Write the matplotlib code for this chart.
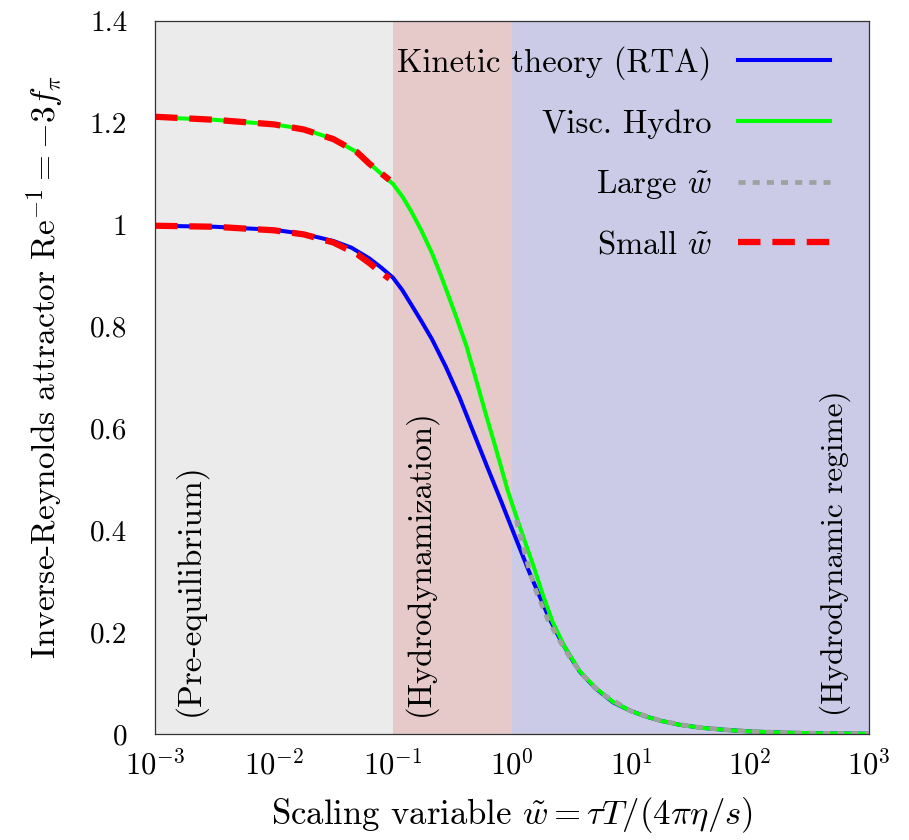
import numpy as np
import matplotlib
matplotlib.use("Agg")
import matplotlib.pyplot as plt

plt.rcParams['font.family'] = 'serif'
plt.rcParams['font.serif'] = ['cmr10']
plt.rcParams['mathtext.fontset'] = 'cm'
plt.rcParams['axes.formatter.use_mathtext'] = True
plt.rcParams['axes.unicode_minus'] = False

# log10(w) and attractor values for each curve
log_w_kin = [-3.0, -2.5, -2.0, -1.75, -1.5, -1.35, -1.2, -1.1, -1.0, -0.92, -0.846,
             -0.76, -0.672, -0.556, -0.441, -0.325, -0.209, -0.093, 0.022, 0.138,
             0.22, 0.311, 0.4, 0.5, 0.571, 0.7, 0.85, 1.0, 1.13, 1.25, 1.41, 1.6,
             1.8, 2.0, 2.3, 2.6, 3.0]
re_kin = [0.998, 0.996, 0.990, 0.982, 0.968, 0.955, 0.934, 0.916, 0.896, 0.871, 0.843,
          0.810, 0.775, 0.721, 0.661, 0.593, 0.525, 0.458, 0.390, 0.322,
          0.277, 0.228, 0.188, 0.148, 0.122, 0.090, 0.062, 0.045, 0.034, 0.026, 0.018, 0.012,
          0.008, 0.005, 0.0025, 0.0013, 0.0005]

log_w_hydro = [-3.0, -2.5, -2.0, -1.75, -1.5, -1.3, -1.2, -1.1, -1.0, -0.92, -0.846,
               -0.76, -0.672, -0.6, -0.528, -0.455, -0.383, -0.325, -0.267, -0.21,
               -0.151, -0.09, -0.036, 0.051, 0.12, 0.182, 0.26, 0.34, 0.44, 0.571,
               0.7, 0.85, 1.0, 1.13, 1.25, 1.41, 1.6, 1.8, 2.0, 2.3, 2.6, 3.0]
re_hydro = [1.211, 1.206, 1.197, 1.188, 1.168, 1.142, 1.121, 1.100, 1.080, 1.055, 1.026,
            0.988, 0.944, 0.902, 0.857, 0.810, 0.762, 0.715, 0.667, 0.620,
            0.573, 0.523, 0.478, 0.417, 0.370, 0.329, 0.273, 0.221, 0.172, 0.123,
            0.091, 0.063, 0.045, 0.034, 0.026, 0.018, 0.012, 0.008, 0.005, 0.0025, 0.0013, 0.0005]

log_w_large = [0.036, 0.1, 0.15, 0.2, 0.3, 0.4, 0.5, 0.6, 0.75, 1.0, 1.25, 1.5, 1.8,
               2.0, 2.3, 2.6, 3.0]
re_large = [0.420, 0.362, 0.318, 0.282, 0.225, 0.183, 0.145, 0.114, 0.080, 0.045, 0.026,
            0.015, 0.008, 0.005, 0.0025, 0.0013, 0.0005]

log_w_small = [-3.0, -2.5, -2.0, -1.75, -1.5, -1.3, -1.2, -1.1, -1.03]
re_small_hydro = [1.212, 1.206, 1.197, 1.187, 1.168, 1.142, 1.120, 1.101, 1.088]
re_small_kin = [0.998, 0.996, 0.989, 0.981, 0.965, 0.942, 0.925, 0.906, 0.894]

regions = [(1e-3, 1e-1, '#ebebeb'), (1e-1, 1e0, '#e6c9c9'), (1e0, 1e3, '#cbcbe7')]
region_labels = [(0.00197, '(Pre-equilibrium)', 24), (0.169, '(Hydrodynamization)', 23.5),
                 (518, '(Hydrodynamic regime)', 22.5)]

y_ticks = [0, 0.2, 0.4, 0.6, 0.8, 1, 1.2, 1.4]
y_ticklabels = ['0', '0.2', '0.4', '0.6', '0.8', '1', '1.2', '1.4']
x_ticks = [1e-3, 1e-2, 1e-1, 1e0, 1e1, 1e2, 1e3]
x_ticklabels = [r'$10^{-3}$', r'$10^{-2}$', r'$10^{-1}$', r'$10^{0}$',
                r'$10^{1}$', r'$10^{2}$', r'$10^{3}$']

fig = plt.figure(figsize=(9.09, 8.4), dpi=100)
ax = fig.add_axes([0.1705, 0.1262, 0.7855, 0.8488])

for x0, x1, c in regions:
    ax.axvspan(x0, x1, color=c, lw=0, zorder=0)

ax.plot(10**np.array(log_w_kin), re_kin, color='#0000ff', lw=2.9, label='Kinetic theory (RTA)', zorder=2)
ax.plot(10**np.array(log_w_hydro), re_hydro, color='#00ff00', lw=2.9, label='Visc. Hydro', zorder=3)
ax.plot(10**np.array(log_w_large), re_large, color='#a0a0a0', lw=3.4, dashes=(1.5, 1.5),
        label=r'Large $\tilde{w}$', zorder=4)
ax.plot(10**np.array(log_w_small), re_small_hydro, color='#ff0000', lw=4.5, dashes=(3.6, 1.9),
        label=r'Small $\tilde{w}$', zorder=5)
ax.plot(10**np.array(log_w_small), re_small_kin, color='#ff0000', lw=4.5, dashes=(3.6, 1.9), zorder=5)

for xpos, txt, fs in region_labels:
    ax.text(xpos, 0.035, txt, rotation=90, ha='center', va='bottom', fontsize=fs, zorder=6)

ax.set_xscale('log')
ax.set_xlim(1e-3, 1e3)
ax.set_ylim(0, 1.4)
ax.set_xticks(x_ticks)
ax.set_xticklabels(x_ticklabels)
ax.minorticks_off()
ax.set_yticks(y_ticks)
ax.set_yticklabels(y_ticklabels)
ax.tick_params(axis='both', length=0)
ax.tick_params(axis='y', pad=20, labelsize=21)
ax.tick_params(axis='x', pad=11, labelsize=22)
for s in ax.spines.values():
    s.set_linewidth(0.9)
    s.set_color('#333333')
    s.set_zorder(10)

ax.set_xlabel(r'Scaling variable $\tilde{w}=\tau T/(4\pi\eta/s)$', fontsize=25, va='center')
ax.set_ylabel(r'Inverse-Reynolds attractor $\mathrm{Re}^{-1}=-3f_\pi$', fontsize=24, va='center')
ax.xaxis.set_label_coords(0.5, -0.114)
ax.yaxis.set_label_coords(-0.154, 0.515)

leg = ax.legend(loc='upper right', bbox_to_anchor=(0.945, 0.965), frameon=False, markerfirst=False,
                fontsize=23.5, handlelength=2.82, handletextpad=0.8, labelspacing=0.9,
                borderpad=0, borderaxespad=0)
for t in leg.get_texts():
    t.set_ha('right')

fig.savefig('out.png', dpi=100)
